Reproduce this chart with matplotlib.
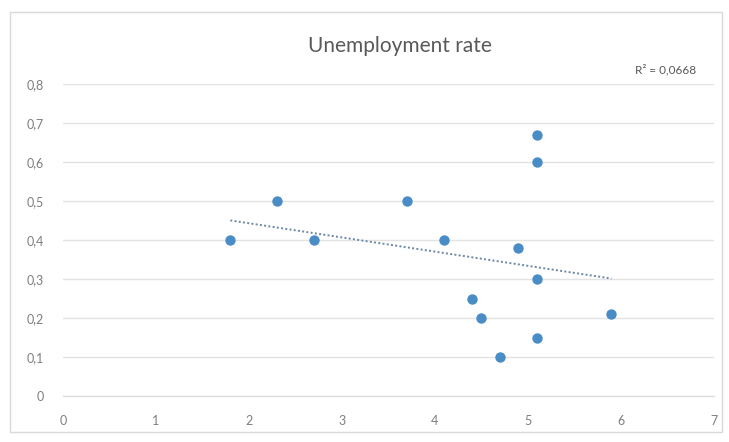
import matplotlib.pyplot as plt
import matplotlib.patches as mpatches
from matplotlib.ticker import FuncFormatter
import numpy as np

# data
x_vals = [1.8, 2.3, 2.7, 3.7, 4.1, 4.9, 5.1, 5.1, 5.1, 4.4, 4.5, 4.7, 5.1, 5.9]
y_vals = [0.40, 0.50, 0.40, 0.50, 0.40, 0.38, 0.67, 0.60, 0.30, 0.25, 0.20, 0.10, 0.15, 0.21]
title = "Unemployment rate"
r2_label = "R² = 0,0668"

plt.rcParams['font.family'] = ['Lato', 'DejaVu Sans']

fig = plt.figure(figsize=(7.29, 4.42), dpi=100)
ax = fig.add_axes([0.0864, 0.104, 0.979 - 0.0864, 0.81 - 0.104])

x = np.array(x_vals)
y = np.array(y_vals)
coef = np.polyfit(x, y, 1)
xf = np.array([x.min(), x.max()])
ax.plot(xf, np.polyval(coef, xf), linestyle=(0, (1, 1.2)), color="#6A88A6",
        linewidth=1.4, zorder=2)
ax.scatter(x, y, s=56, color="#4A8CC6", zorder=3, linewidths=0)

ax.set_xlim(0, 7)
ax.set_ylim(0, 0.8)
ax.set_xticks(range(0, 8))
ax.set_yticks(np.arange(0, 0.81, 0.1))
fmt = FuncFormatter(lambda v, p: ("%g" % round(v, 2)).replace(".", ","))
ax.xaxis.set_major_formatter(fmt)
ax.yaxis.set_major_formatter(fmt)
ax.grid(axis="y", color="#E3E3E3", linewidth=1)
ax.set_axisbelow(True)
for s in ["top", "right", "left"]:
    ax.spines[s].set_visible(False)
ax.spines["bottom"].set_color("#D9D9D9")
ax.tick_params(length=0, labelsize=9, labelcolor="#7F7F7F")
ax.tick_params(axis="x", pad=14)
ax.tick_params(axis="y", pad=14)

fig.text(0.549, 0.895, title, ha="center", va="center", fontsize=15, color="#595959")
fig.text(0.955, 0.842, r2_label, ha="right", va="center", fontsize=8.5, color="#595959")

# chart area border
fig.patches.append(mpatches.Rectangle((0.014, 0.022), 0.976, 0.95, transform=fig.transFigure,
                                      fill=False, edgecolor="#D9D9D9", linewidth=1))

fig.savefig("out.png", dpi=100)
